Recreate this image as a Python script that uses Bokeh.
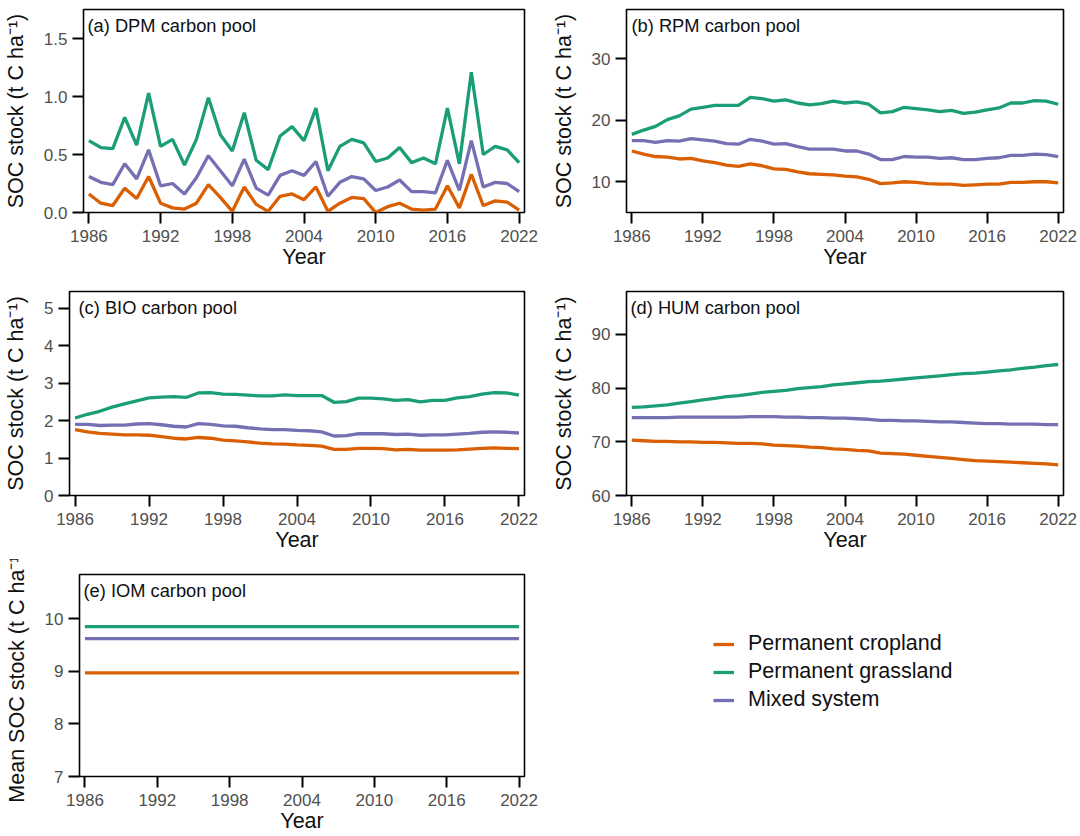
from bokeh.plotting import figure
from bokeh.models import Range1d, FixedTicker, PrintfTickFormatter, Label, Legend, LegendItem
from bokeh.layouts import column, row
from bokeh.embed import file_html
from bokeh.resources import INLINE

# ---------------- data ----------------
years = list(range(1986, 2023))
year_ticks = [1986, 1992, 1998, 2004, 2010, 2016, 2022]
systems = ["Permanent cropland", "Permanent grassland", "Mixed system"]

dpm_crop = [0.16, 0.08, 0.06, 0.21, 0.12, 0.31, 0.08, 0.04, 0.03, 0.08,
            0.24, 0.13, 0.01, 0.22, 0.07, 0.01, 0.14, 0.16, 0.11, 0.22,
            0.01, 0.08, 0.13, 0.12, 0.00, 0.05, 0.08, 0.03, 0.02, 0.03,
            0.23, 0.04, 0.33, 0.06, 0.10, 0.09, 0.02]
dpm_grass = [0.62, 0.56, 0.55, 0.82, 0.58, 1.03, 0.57, 0.63, 0.41, 0.63,
             0.99, 0.67, 0.53, 0.86, 0.45, 0.37, 0.66, 0.74, 0.62, 0.90,
             0.36, 0.57, 0.63, 0.60, 0.44, 0.47, 0.56, 0.43, 0.47, 0.42,
             0.90, 0.42, 1.21, 0.50, 0.57, 0.54, 0.43]
dpm_mixed = [0.31, 0.26, 0.24, 0.42, 0.29, 0.54, 0.23, 0.25, 0.16, 0.30,
             0.49, 0.36, 0.23, 0.46, 0.21, 0.15, 0.32, 0.36, 0.32, 0.44,
             0.14, 0.26, 0.31, 0.29, 0.19, 0.22, 0.28, 0.18, 0.18, 0.17,
             0.45, 0.19, 0.62, 0.22, 0.26, 0.25, 0.18]

rpm_crop = [15.0, 14.5, 14.1, 14.0, 13.7, 13.8, 13.4, 13.1, 12.7, 12.5,
            12.9, 12.6, 12.1, 12.0, 11.6, 11.3, 11.2, 11.1, 10.9, 10.8,
            10.4, 9.7, 9.8, 10.0, 9.9, 9.7, 9.6, 9.6, 9.4, 9.5,
            9.6, 9.6, 9.9, 9.9, 10.0, 10.0, 9.8]
rpm_grass = [17.7, 18.4, 19.0, 20.1, 20.7, 21.8, 22.1, 22.4, 22.4, 22.4,
             23.7, 23.5, 23.1, 23.3, 22.8, 22.5, 22.7, 23.1, 22.8, 23.0,
             22.6, 21.2, 21.4, 22.1, 21.9, 21.7, 21.4, 21.6, 21.1, 21.3,
             21.7, 22.0, 22.8, 22.8, 23.2, 23.1, 22.6]
rpm_mixed = [16.7, 16.7, 16.4, 16.7, 16.6, 17.0, 16.8, 16.6, 16.2, 16.1,
             16.9, 16.6, 16.1, 16.2, 15.7, 15.3, 15.3, 15.3, 15.0, 15.0,
             14.5, 13.6, 13.6, 14.1, 14.0, 14.0, 13.8, 13.9, 13.6, 13.6,
             13.8, 13.9, 14.3, 14.3, 14.5, 14.4, 14.1]

bio_crop = [1.76, 1.70, 1.66, 1.64, 1.62, 1.62, 1.61, 1.57, 1.53, 1.51,
            1.55, 1.53, 1.48, 1.46, 1.43, 1.40, 1.38, 1.37, 1.35, 1.34,
            1.32, 1.23, 1.23, 1.26, 1.26, 1.25, 1.22, 1.23, 1.21, 1.21,
            1.21, 1.22, 1.24, 1.26, 1.27, 1.26, 1.25]
bio_grass = [2.07, 2.17, 2.25, 2.36, 2.45, 2.53, 2.61, 2.63, 2.64, 2.62,
             2.74, 2.75, 2.71, 2.70, 2.68, 2.66, 2.66, 2.69, 2.67, 2.67,
             2.67, 2.49, 2.51, 2.60, 2.60, 2.58, 2.54, 2.56, 2.50, 2.54,
             2.54, 2.61, 2.64, 2.71, 2.75, 2.74, 2.68]
bio_mixed = [1.90, 1.90, 1.87, 1.88, 1.88, 1.91, 1.92, 1.89, 1.85, 1.83,
             1.92, 1.90, 1.86, 1.85, 1.81, 1.78, 1.76, 1.76, 1.74, 1.73,
             1.70, 1.59, 1.60, 1.65, 1.65, 1.65, 1.63, 1.64, 1.61, 1.62,
             1.62, 1.64, 1.66, 1.69, 1.70, 1.69, 1.67]

hum_crop = [70.3, 70.2, 70.1, 70.1, 70.0, 70.0, 69.9, 69.9, 69.8, 69.7,
            69.7, 69.6, 69.4, 69.3, 69.2, 69.0, 68.9, 68.7, 68.6, 68.4,
            68.3, 67.9, 67.8, 67.7, 67.5, 67.3, 67.1, 66.9, 66.7, 66.5,
            66.4, 66.3, 66.2, 66.1, 66.0, 65.9, 65.7]
hum_grass = [76.4, 76.5, 76.7, 76.9, 77.2, 77.5, 77.8, 78.1, 78.4, 78.6,
             78.9, 79.2, 79.4, 79.6, 79.9, 80.1, 80.3, 80.6, 80.8, 81.0,
             81.2, 81.3, 81.5, 81.7, 81.9, 82.1, 82.3, 82.5, 82.7, 82.8,
             83.0, 83.2, 83.4, 83.7, 83.9, 84.2, 84.4]
hum_mixed = [74.5, 74.5, 74.5, 74.5, 74.6, 74.6, 74.6, 74.6, 74.6, 74.6,
             74.7, 74.7, 74.7, 74.6, 74.6, 74.5, 74.5, 74.4, 74.4, 74.3,
             74.2, 74.0, 74.0, 73.9, 73.9, 73.8, 73.7, 73.7, 73.6, 73.5,
             73.4, 73.4, 73.3, 73.3, 73.3, 73.2, 73.2]

# IOM pool is constant over the period
iom_crop_value = 8.97
iom_grass_value = 9.85
iom_mixed_value = 9.62
iom_crop = [iom_crop_value] * len(years)
iom_grass = [iom_grass_value] * len(years)
iom_mixed = [iom_mixed_value] * len(years)

# ---------------- style ----------------
FONT = "Liberation Sans"
COLORS = ["#d95f02", "#1b9e77", "#7570b3"]  # cropland, grassland, mixed
LINE_W = 3.3
TICK_COLOR = "#505050"
TEXT_COLOR = "#111111"
XR = (1985.55, 2022.45)
YLAB = "SOC stock (t C ha\u207b\u00b9)"


def make_panel(width, height, borders, yrange, yticks, yfmt, ylabel, title,
               title_dx, series):
    bl, br, bt, bb = borders
    p = figure(width=width, height=height, output_backend="svg",
               toolbar_location=None,
               x_range=Range1d(*XR), y_range=Range1d(*yrange),
               min_border_left=bl, min_border_right=br,
               min_border_top=bt, min_border_bottom=bb)
    p.grid.visible = False
    p.outline_line_color = "black"
    p.outline_line_width = 1.6
    p.outline_line_alpha = 1.0
    p.background_fill_color = "white"
    p.border_fill_color = "white"
    for ax in (p.xaxis[0], p.yaxis[0]):
        ax.axis_line_color = None
        ax.major_tick_line_color = "black"
        ax.major_tick_line_width = 2
        ax.major_tick_out = 11
        ax.major_tick_in = 0
        ax.minor_tick_line_color = None
        ax.major_label_text_font = FONT
        ax.major_label_text_font_size = "17px"
        ax.major_label_text_color = TICK_COLOR
        ax.axis_label_text_font = FONT
        ax.axis_label_text_font_size = "21.5px"
        ax.axis_label_text_font_style = "normal"
        ax.axis_label_text_color = TEXT_COLOR
    p.xaxis.ticker = FixedTicker(ticks=year_ticks)
    p.xaxis.axis_label = "Year"
    p.xaxis.major_label_standoff = 6
    p.xaxis.axis_label_standoff = 0
    p.yaxis.ticker = FixedTicker(ticks=yticks)
    p.yaxis.formatter = PrintfTickFormatter(format=yfmt)
    p.yaxis.axis_label = ylabel
    p.yaxis.major_label_standoff = 5
    p.yaxis.axis_label_standoff = 13

    for vals, col in zip(series, COLORS):
        p.line(years, vals, line_color=col, line_width=LINE_W)

    p.add_layout(Label(x=XR[0], y=yrange[1], x_offset=title_dx, y_offset=-5,
                       text=title, text_font=FONT, text_font_size="18.3px",
                       text_color=TEXT_COLOR, text_baseline="top",
                       text_align="left"))
    return p


LW, RW = 548, 532
H1, H2, H3 = 281, 278, 277

pa = make_panel(LW, H1, (83, 24, 9, 69), (0, 1.75), [0, 0.5, 1.0, 1.5], "%.1f",
                YLAB, "(a) DPM carbon pool", 4, [dpm_crop, dpm_grass, dpm_mixed])
pb = make_panel(RW, H1, (70, 17, 9, 69), (5, 38), [10, 20, 30], "%d",
                YLAB, "(b) RPM carbon pool", 5, [rpm_crop, rpm_grass, rpm_mixed])
pc = make_panel(LW, H2, (69, 24, 10, 64), (0, 5.45), [0, 1, 2, 3, 4, 5], "%d",
                YLAB, "(c) BIO carbon pool", 9, [bio_crop, bio_grass, bio_mixed])
pd = make_panel(RW, H2, (69, 17, 10, 64), (60, 98), [60, 70, 80, 90], "%d",
                YLAB, "(d) HUM carbon pool", 4, [hum_crop, hum_grass, hum_mixed])
pe = make_panel(LW, H3, (79, 24, 15, 60), (7, 10.84), [7, 8, 9, 10], "%d",
                "Mean " + YLAB, "(e) IOM carbon pool", 4,
                [iom_crop, iom_grass, iom_mixed])

# legend panel (its lines carry the IOM data but lie outside the visible range)
pf = figure(width=RW, height=H3, output_backend="svg", toolbar_location=None,
            x_range=Range1d(0, 1), y_range=Range1d(0, 1),
            x_axis_location=None, y_axis_location=None,
            min_border_left=0, min_border_right=0, min_border_top=0,
            min_border_bottom=0)
pf.grid.visible = False
pf.outline_line_color = None
pf.background_fill_color = "white"
pf.border_fill_color = "white"
items = []
for vals, col, name in zip([iom_crop, iom_grass, iom_mixed], COLORS, systems):
    r = pf.line(years, vals, line_color=col, line_width=LINE_W)
    items.append(LegendItem(label=name, renderers=[r]))
legend = Legend(items=items, location=(165, 64), orientation="vertical",
                padding=0, margin=0, spacing=3, glyph_width=21, glyph_height=24,
                label_height=24, label_standoff=14,
                label_text_font=FONT, label_text_font_size="21.5px",
                label_text_color=TEXT_COLOR, border_line_color=None,
                background_fill_alpha=0)
pf.add_layout(legend)

layout = column(row(pa, pb), row(pc, pd), row(pe, pf))

open("out.html", "w").write(file_html(layout, INLINE))
